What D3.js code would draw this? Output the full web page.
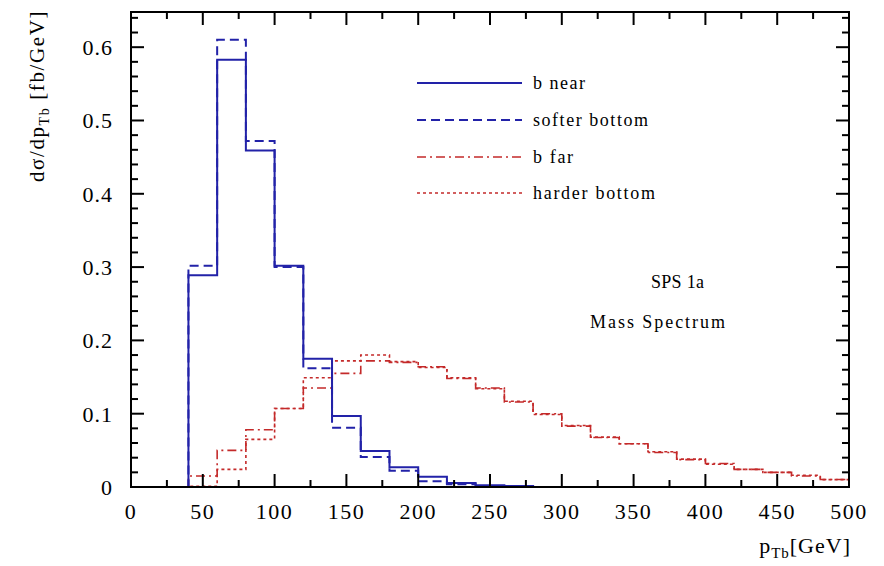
<!DOCTYPE html>
<html>
<head>
<meta charset="utf-8">
<script src="https://cdn.jsdelivr.net/npm/d3@7"></script>
<style>
html,body{margin:0;padding:0;background:#fff;}
svg{display:block;}
text{font-family:"Liberation Serif","DejaVu Serif",serif;fill:#000;}
</style>
</head>
<body>
<svg id="chart" width="884" height="566"></svg>
<script>
// Bin lower edges (GeV), bin width 20
const binEdges = [0,20,40,60,80,100,120,140,160,180,200,220,240,260,280,300,320,340,360,380,400,420,440,460,480];
const binWidth = 20;
const bNear        = [0,0,0.289,0.583,0.459,0.302,0.175,0.097,0.049,0.027,0.014,0.0055,0.0023,0.0015,0,0,0,0,0,0,0,0,0,0,0];
const softerBottom = [0,0,0.302,0.610,0.472,0.300,0.162,0.081,0.041,0.022,0.008,0.0037,0.0015,0.0008,0,0,0,0,0,0,0,0,0,0,0];
const bFar         = [0,0,0.015,0.050,0.078,0.107,0.135,0.155,0.172,0.170,0.164,0.148,0.135,0.116,0.100,0.083,0.0675,0.059,0.047,0.0374,0.032,0.024,0.020,0.015,0.0103];
const harderBottom = [0,0,0.001,0.024,0.065,0.107,0.149,0.172,0.180,0.171,0.163,0.149,0.134,0.117,0.099,0.084,0.068,0.059,0.048,0.038,0.031,0.024,0.020,0.016,0.0101];
const seriesNames = ["b near","softer bottom","b far","harder bottom"];
const xTicks = [0,50,100,150,200,250,300,350,400,450,500];
const yTicks = [0,0.1,0.2,0.3,0.4,0.5,0.6];
const yTickLabels = ["0","0.1","0.2","0.3","0.4","0.5","0.6"];

const svg = d3.select("#chart");
const L = 131, R = 849, T = 12, B = 487;
const x = d3.scaleLinear().domain([0,500]).range([L,R]);
const y = d3.scaleLinear().domain([0,0.648]).range([B,T]);

const blue = "#2222a8", red = "#c42a2a";
const styles = [
  {color: blue, dash: null, w: 2},
  {color: blue, dash: "9,5", w: 2},
  {color: red, dash: "9,4,2,4", w: 1.6},
  {color: red, dash: "3,3", w: 1.6}
];
const allSeries = [bNear, softerBottom, bFar, harderBottom];

const line = d3.line().x(d=>x(d[0])).y(d=>y(d[1])).curve(d3.curveStepAfter);

// histograms (draw reds first, blues on top)
[2,3,0,1].forEach(si=>{
  const vals = allSeries[si];
  const pts = binEdges.map((e,i)=>[e, vals[i]]);
  pts.push([binEdges[binEdges.length-1]+binWidth, vals[vals.length-1]]);
  svg.append("path").attr("d", line(pts))
    .attr("fill","none").attr("stroke", styles[si].color)
    .attr("stroke-width", styles[si].w)
    .attr("stroke-dasharray", styles[si].dash);
});

// frame
svg.append("rect").attr("x",L).attr("y",T).attr("width",R-L).attr("height",B-T)
  .attr("fill","none").attr("stroke","#000").attr("stroke-width",2);

// ticks inward on all sides
const xMinor = d3.range(0,501,25);
const yMinor = d3.range(0,0.641,0.02);
const tk = svg.append("g").attr("stroke","#000").attr("stroke-width",2);
xMinor.forEach(v=>{
  const len = (v%50===0)?13:7;
  tk.append("line").attr("x1",x(v)).attr("x2",x(v)).attr("y1",B).attr("y2",B-len);
  tk.append("line").attr("x1",x(v)).attr("x2",x(v)).attr("y1",T).attr("y2",T+len);
});
yMinor.forEach((v,i)=>{
  const len = (i%5===0)?13:7;
  tk.append("line").attr("y1",y(v)).attr("y2",y(v)).attr("x1",L).attr("x2",L+len);
  tk.append("line").attr("y1",y(v)).attr("y2",y(v)).attr("x1",R).attr("x2",R-len);
});

// tick labels
svg.append("g").selectAll("text").data(xTicks).join("text")
  .attr("x",d=>x(d)).attr("y",519).attr("text-anchor","middle")
  .attr("font-size",22).attr("letter-spacing",1.5).text(d=>d);
svg.append("g").selectAll("text").data(yTicks).join("text")
  .attr("x",113).attr("y",d=>y(d)+8).attr("text-anchor","end")
  .attr("font-size",22).attr("letter-spacing",1).text((d,i)=>yTickLabels[i]);

// axis titles
const xt = svg.append("text").attr("x",851).attr("y",553).attr("text-anchor","end")
  .attr("font-size",22).attr("letter-spacing",1);
xt.append("tspan").text("p");
xt.append("tspan").attr("dy",5).attr("font-size",15).text("Tb");
xt.append("tspan").attr("dy",-5).text("[GeV]");

const yt = svg.append("text").attr("transform","translate(44,10) rotate(-90)")
  .attr("text-anchor","end").attr("font-size",21).attr("letter-spacing",1.6);
yt.append("tspan").text("dσ/dp");
yt.append("tspan").attr("dy",5).attr("font-size",14).text("Tb");
yt.append("tspan").attr("dy",-5).text(" [fb/GeV]");

// legend
const legY = [83, 120, 157, 193];
const legW = [52, 115, 40, 122];
seriesNames.forEach((n,i)=>{
  svg.append("line").attr("x1",417).attr("x2",522).attr("y1",legY[i]).attr("y2",legY[i])
    .attr("stroke",styles[i].color).attr("stroke-width",styles[i].w)
    .attr("stroke-dasharray",styles[i].dash);
  svg.append("text").attr("x",533).attr("y",legY[i]+6).attr("font-size",18)
    .attr("textLength",legW[i]).attr("lengthAdjust","spacing").text(n);
});

// annotation
svg.append("text").attr("x",651).attr("y",288).attr("font-size",18)
  .attr("textLength",53).attr("lengthAdjust","spacing").text("SPS 1a");
svg.append("text").attr("x",590).attr("y",328).attr("font-size",18)
  .attr("textLength",135).attr("lengthAdjust","spacing").text("Mass Spectrum");
</script>
</body>
</html>
